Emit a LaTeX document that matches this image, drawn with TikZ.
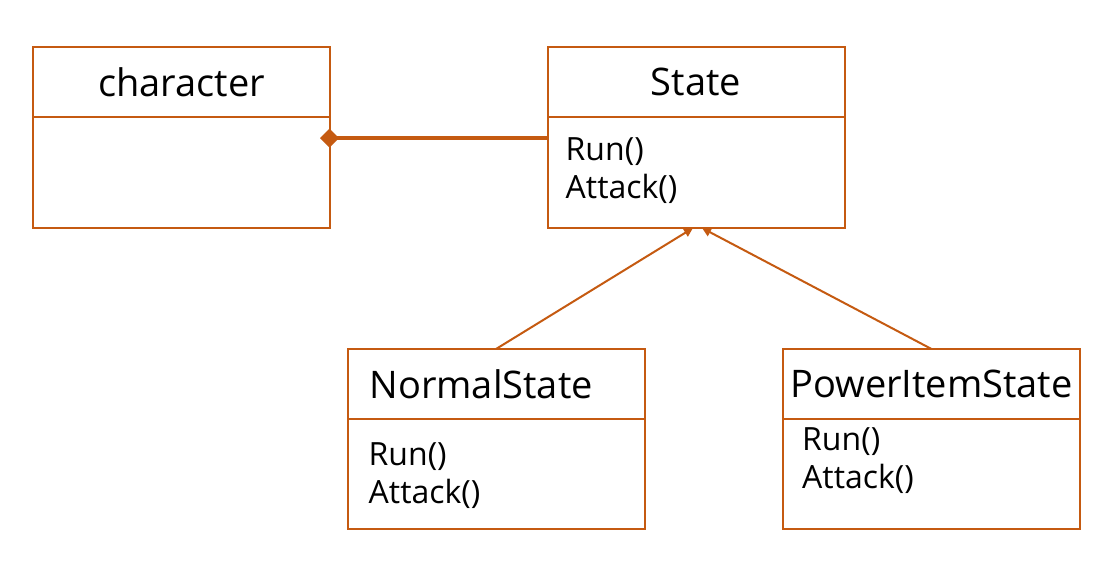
\documentclass[tikz,border=0pt]{standalone}
\usepackage{fontspec}
\setmainfont{Open Sans}
\usetikzlibrary{positioning,arrows.meta}
\definecolor{umlorange}{HTML}{C55A11}

\begin{document}
\begin{tikzpicture}[
  x = 1pt, y = -1pt,
  box/.style = {draw = umlorange, line width = 2pt, rectangle, inner sep = 0pt,
                outer sep = 0pt, minimum width = 297pt},
  title/.style = {box, minimum height = 70pt, font = \fontsize{38}{44}\selectfont},
  body/.style = {box, minimum height = 111pt},
  ops/.style = {align = left, inner sep = 0pt, anchor = north west,
                font = \fontsize{32}{38}\selectfont},
  composition/.style = {draw = umlorange, line width = 4pt,
                        -{Diamond[length = 19pt, width = 19pt]}, shorten > = -10pt},
  inherit/.style = {draw = umlorange, line width = 2pt,
                    -{Triangle[length = 9pt, width = 9pt]}}
  ]
  \useasboundingbox (0,0) rectangle (1118,566);

  % classes
  \node[title] (characterTitle) at (181.5,82) {character};
  \node[body, below = 0pt of characterTitle] (characterBody) {};

  \node[title] (stateTitle) at (696,82) {State};
  \node[body, below = 0pt of stateTitle] (stateBody) {};
  \node[ops] (stateOps) at ([xshift = 18pt, yshift = -20pt]stateBody.north west) {Run()\\Attack()};

  \node[title, align = left, text width = 253pt] (normalTitle) at (496,384) {NormalState};
  \node[body, minimum height = 110pt, below = 0pt of normalTitle] (normalBody) {};
  \node[ops] (normalOps) at ([xshift = 21pt, yshift = -23pt]normalBody.north west) {Run()\\Attack()};

  \node[title] (powerTitle) at (931.5,384) {PowerItemState};
  \node[body, minimum height = 110pt, below = 0pt of powerTitle] (powerBody) {};
  \node[ops] (powerOps) at ([xshift = 19pt, yshift = -8pt]powerBody.north west) {Run()\\Attack()};

  % relations
  \draw[composition] ([yshift = 34.5pt]stateBody.west) -- ([yshift = 34.5pt]characterBody.east);
  \draw[inherit] (normalTitle.north) -- ([xshift = -3pt]stateBody.south);
  \draw[inherit] (powerTitle.north) -- ([xshift = 6pt]stateBody.south);
\end{tikzpicture}
\end{document}
